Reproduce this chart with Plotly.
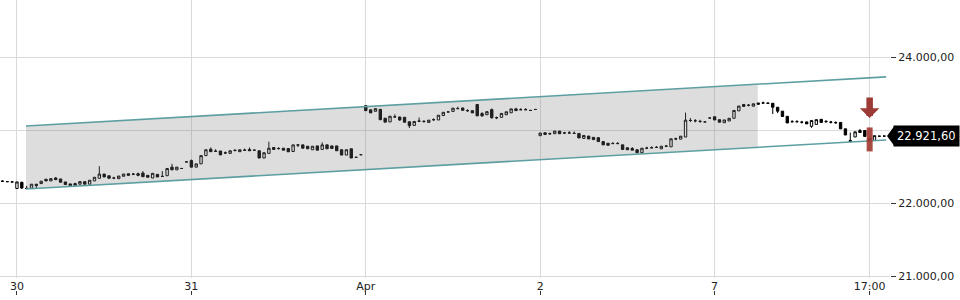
import numpy as np
import plotly.graph_objects as go

# ---- data: (open, high, low, close) per 15-min candle, grouped by session ----
MAR27 = [(22300, 22315, 22295, 22302), (22296, 22300, 22292, 22296), (22292, 22296, 22288, 22292)]
MAR30 = [
    (22202, 22292, 22202, 22292), (22288, 22292, 22200, 22207), (22205, 22238, 22200, 22202),
    (22207, 22261, 22207, 22261), (22261, 22261, 22207, 22242), (22269, 22302, 22269, 22302),
    (22329, 22329, 22306, 22306), (22306, 22337, 22306, 22337), (22346, 22360, 22323, 22323),
    (22333, 22333, 22288, 22288), (22292, 22292, 22256, 22256), (22265, 22265, 22242, 22242),
    (22269, 22280, 22248, 22248), (22261, 22296, 22261, 22296), (22296, 22296, 22261, 22261),
    (22261, 22315, 22261, 22315), (22306, 22356, 22306, 22356), (22342, 22508, 22342, 22400),
    (22400, 22400, 22360, 22360), (22377, 22377, 22342, 22342), (22347, 22362, 22330, 22345),
    (22337, 22373, 22337, 22373), (22370, 22400, 22370, 22400), (22404, 22404, 22383, 22383),
    (22400, 22415, 22385, 22398), (22404, 22420, 22370, 22383), (22414, 22441, 22364, 22364),
    (22383, 22383, 22356, 22356), (22346, 22410, 22346, 22410), (22396, 22396, 22360, 22360),
    (22370, 22441, 22365, 22367), (22377, 22477, 22377, 22477), (22495, 22540, 22458, 22458),
    (22458, 22495, 22458, 22495), (22477, 22477, 22477, 22477), (22567, 22567, 22567, 22567),
]
MAR31 = [
    (22585, 22600, 22495, 22495), (22495, 22540, 22495, 22540), (22540, 22653, 22540, 22653),
    (22653, 22734, 22653, 22734), (22742, 22765, 22707, 22707), (22715, 22740, 22712, 22712),
    (22717, 22717, 22663, 22663), (22692, 22710, 22675, 22690), (22684, 22720, 22684, 22720),
    (22725, 22745, 22722, 22722), (22707, 22734, 22707, 22734), (22730, 22750, 22727, 22727),
    (22737, 22765, 22720, 22720), (22728, 22728, 22728, 22728), (22720, 22720, 22620, 22620),
    (22620, 22693, 22620, 22693), (22684, 22845, 22684, 22755), (22765, 22765, 22738, 22738),
    (22752, 22768, 22735, 22750), (22755, 22755, 22728, 22728), (22751, 22751, 22706, 22706),
    (22710, 22801, 22710, 22801), (22801, 22801, 22770, 22798), (22801, 22801, 22755, 22755),
    (22782, 22782, 22747, 22747), (22734, 22782, 22734, 22782), (22787, 22787, 22728, 22728),
    (22738, 22836, 22738, 22801), (22801, 22801, 22747, 22747), (22787, 22787, 22751, 22751),
    (22787, 22787, 22720, 22720), (22734, 22734, 22661, 22661), (22661, 22734, 22661, 22734),
    (22747, 22747, 22620, 22620), (22630, 22630, 22630, 22630), (22666, 22666, 22666, 22666),
]
APR1 = [
    (23338, 23338, 23271, 23271), (23282, 23282, 23240, 23240), (23262, 23298, 23262, 23298),
    (23289, 23289, 23146, 23146), (23167, 23167, 23113, 23113), (23116, 23194, 23116, 23194),
    (23186, 23220, 23183, 23183), (23183, 23190, 23130, 23143), (23180, 23180, 23112, 23112),
    (23118, 23118, 23032, 23064), (23068, 23122, 23068, 23122), (23128, 23176, 23126, 23126),
    (23124, 23140, 23105, 23122), (23109, 23140, 23109, 23140), (23148, 23165, 23130, 23146),
    (23143, 23208, 23143, 23208), (23203, 23248, 23203, 23248), (23253, 23253, 23253, 23253),
    (23260, 23305, 23260, 23305), (23300, 23325, 23298, 23298), (23308, 23308, 23275, 23275),
    (23272, 23290, 23255, 23270), (23271, 23271, 23240, 23240), (23356, 23356, 23199, 23199),
    (23230, 23250, 23185, 23200), (23214, 23257, 23214, 23257), (23285, 23300, 23160, 23174),
    (23175, 23190, 23155, 23172), (23179, 23233, 23179, 23233), (23214, 23255, 23214, 23255),
    (23241, 23295, 23241, 23295), (23295, 23310, 23271, 23271), (23285, 23305, 23283, 23283),
    (23285, 23305, 23283, 23283), (23274, 23274, 23274, 23274), (23287, 23287, 23287, 23287),
]
APR2 = [
    (22927, 22963, 22927, 22963), (22967, 22970, 22935, 22944), (22955, 22970, 22940, 22953),
    (22954, 22990, 22954, 22990), (22990, 22990, 22954, 22954), (22965, 22980, 22950, 22963),
    (22965, 22990, 22963, 22963), (22960, 22985, 22958, 22958), (22958, 22958, 22896, 22896),
    (22890, 22930, 22890, 22930), (22922, 22922, 22882, 22882), (22904, 22904, 22873, 22873),
    (22900, 22900, 22846, 22846), (22846, 22846, 22801, 22801), (22823, 22823, 22796, 22796),
    (22820, 22840, 22818, 22818), (22820, 22840, 22818, 22818), (22801, 22801, 22738, 22738),
    (22761, 22761, 22734, 22734), (22751, 22770, 22728, 22728), (22734, 22734, 22693, 22693),
    (22693, 22755, 22693, 22755), (22757, 22775, 22755, 22755), (22762, 22780, 22760, 22760),
    (22767, 22785, 22765, 22765), (22747, 22782, 22747, 22782), (22784, 22800, 22782, 22782),
    (22774, 22884, 22774, 22884), (22885, 22900, 22865, 22882), (22880, 22920, 22880, 22920),
    (22909, 23244, 22909, 23140), (23137, 23170, 23115, 23135), (23133, 23155, 23110, 23131),
    (23125, 23145, 23105, 23122), (23116, 23116, 23116, 23116), (23170, 23170, 23170, 23170),
]
APR7 = [
    (23187, 23187, 23143, 23143), (23147, 23147, 23112, 23112), (23105, 23143, 23105, 23143),
    (23129, 23166, 23129, 23166), (23166, 23274, 23166, 23274), (23268, 23334, 23268, 23334),
    (23356, 23356, 23329, 23329), (23346, 23360, 23330, 23344), (23332, 23365, 23332, 23365),
    (23376, 23376, 23359, 23359), (23377, 23395, 23375, 23375), (23373, 23390, 23370, 23370),
    (23372, 23372, 23224, 23318), (23318, 23318, 23237, 23264), (23264, 23264, 23190, 23190),
    (23193, 23193, 23102, 23102), (23120, 23140, 23118, 23118), (23120, 23140, 23118, 23118),
    (23113, 23130, 23095, 23111), (23116, 23120, 23089, 23089), (23055, 23136, 23035, 23136),
    (23082, 23147, 23082, 23147), (23152, 23152, 23109, 23109), (23124, 23140, 23105, 23120),
    (23114, 23130, 23095, 23112), (23107, 23125, 23090, 23105), (23109, 23109, 23021, 23021),
    (23021, 23021, 22936, 22936), (22862, 22970, 22845, 22845), (22909, 22980, 22909, 22980),
    (22998, 23020, 22971, 22971), (22998, 22998, 22917, 22917), (22890, 22890, 22855, 22855),
    (22863, 22927, 22863, 22927), (22920, 22920, 22920, 22920), (22921.6, 22921.6, 22921.6, 22921.6),
]
FIRST_INDEX = -3                      # candle index of first Mar 27 candle
TICK_IDX = [0, 36, 72, 108, 144, 176]
TICK_TEXT = ["30", "31", "Apr", "2", "7", "17:00"]
Y_TICKS = [21000, 22000, 23000, 24000]
LAST_PRICE = 22921.60

# trend channel (candle index, value)
CHANNEL_X = [1.86, 179.4]
CHANNEL_UPPER = [23060, 23735]
CHANNEL_LOWER = [22195, 22868]
SHADE_END_X = 152.9

# signal
SIGNAL_IDX = 176
SIGNAL_ARROW_TIP = 23170
SIGNAL_BAR = [22711, 23040]

# ---- build ----
candles = MAR27 + MAR30 + MAR31 + APR1 + APR2 + APR7
X = list(range(FIRST_INDEX, FIRST_INDEX + len(candles)))
O = [c[0] for c in candles]
H = [c[1] for c in candles]
L = [c[2] for c in candles]
C = [c[3] for c in candles]

XR = [-3.5, 180.2]
YR = [20969, 24790]
GRID = "#dadada"
FONT = dict(family="DejaVu Sans", size=11, color="#222222")

fig = go.Figure()

# shaded channel
up_end = float(np.interp(SHADE_END_X, CHANNEL_X, CHANNEL_UPPER))
lo_end = float(np.interp(SHADE_END_X, CHANNEL_X, CHANNEL_LOWER))
fig.add_trace(go.Scatter(
    x=[CHANNEL_X[0], SHADE_END_X, SHADE_END_X, CHANNEL_X[0], CHANNEL_X[0]],
    y=[CHANNEL_UPPER[0], up_end, lo_end, CHANNEL_LOWER[0], CHANNEL_UPPER[0]],
    fill="toself", fillcolor="rgba(120,120,120,0.25)", line=dict(width=0),
    mode="lines", hoverinfo="skip", showlegend=False))
for vals in (CHANNEL_UPPER, CHANNEL_LOWER):
    fig.add_trace(go.Scatter(x=CHANNEL_X, y=vals, mode="lines",
                             line=dict(color="#5d9fa1", width=1.6),
                             hoverinfo="skip", showlegend=False))

# signal highlight bar
fig.add_trace(go.Scatter(x=[SIGNAL_IDX, SIGNAL_IDX], y=SIGNAL_BAR, mode="lines",
                         line=dict(color="rgba(160,55,48,0.9)", width=6),
                         hoverinfo="skip", showlegend=False))

fig.add_trace(go.Candlestick(
    x=X, open=O, high=H, low=L, close=C,
    increasing=dict(fillcolor="white", line=dict(color="black", width=1)),
    decreasing=dict(fillcolor="black", line=dict(color="black", width=1)),
    hoverinfo="skip", showlegend=False))

# invisible trace for tick-mark axis
fig.add_trace(go.Scatter(x=[0], y=[23000], xaxis="x2", mode="markers",
                         marker=dict(opacity=0), hoverinfo="skip", showlegend=False))

fig.add_annotation(x=SIGNAL_IDX, y=SIGNAL_ARROW_TIP, xref="x", yref="y", text="",
                   showarrow=True, ax=0, ay=-22, arrowhead=1, arrowsize=0.5,
                   arrowwidth=6.5, arrowcolor="#9c3b35", standoff=0)

label = f"{LAST_PRICE:,.2f}".replace(",", "#").replace(".", ",").replace("#", ".")
fig.add_annotation(x=1.0787, y=LAST_PRICE, xref="paper", yref="y", text=label,
                   showarrow=False, xanchor="right", yanchor="middle",
                   bgcolor="black", borderpad=3,
                   font=dict(family="DejaVu Sans", size=11.5, color="white"))
fig.add_shape(type="path", xref="paper", yref="y", xsizemode="pixel", ysizemode="pixel",
              xanchor=1.0045, yanchor=LAST_PRICE, path="M -7,0 L 0,9.5 L 0,-9.5 Z",
              fillcolor="black", line=dict(width=0))

fig.update_layout(
    width=960, height=300, margin=dict(l=0, r=70, t=0, b=0),
    paper_bgcolor="white", plot_bgcolor="white",
    separators=",.",
    showlegend=False,
    xaxis=dict(range=XR, tickmode="array", tickvals=TICK_IDX, ticktext=TICK_TEXT,
               showgrid=True, gridcolor=GRID, gridwidth=1, ticks="", zeroline=False,
               showline=False, rangeslider=dict(visible=False), tickfont=FONT),
    xaxis2=dict(range=XR, overlaying="x", anchor="free", position=0.0,
                tickmode="array", tickvals=TICK_IDX, ticks="inside", ticklen=4,
                tickcolor="#333333", showticklabels=False, showgrid=False,
                zeroline=False, showline=False),
    yaxis=dict(range=YR, domain=[17 / 300, 1], side="right", tickmode="array",
               tickvals=Y_TICKS, tickformat=",.2f", showgrid=True, gridcolor=GRID,
               ticks="outside", ticklen=5, tickcolor="#333333", zeroline=False,
               showline=False, tickfont=FONT),
)

fig.write_html("out.html")
